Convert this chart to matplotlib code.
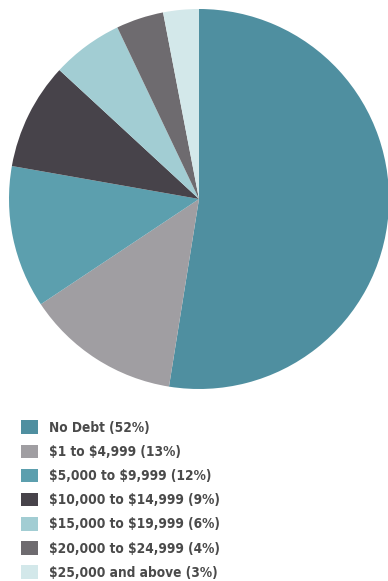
import matplotlib
matplotlib.use("Agg")
import matplotlib.pyplot as plt

categories = ["No Debt", "$1 to $4,999", "$5,000 to $9,999", "$10,000 to $14,999",
              "$15,000 to $19,999", "$20,000 to $24,999", "$25,000 and above"]
shares = [52, 13, 12, 9, 6, 4, 3]
colors = ["#4f8fa0", "#a09ea2", "#5c9fae", "#47434a", "#a2cdd3", "#6e6b6f", "#d3e8ea"]

plt.rcParams["text.parse_math"] = False
labels = [f"{c} ({s}%)" for c, s in zip(categories, shares)]

prop = dict(family=["DejaVu Sans"], stretch="condensed", weight="bold", size=9.8)

W, H = 388, 581
fig = plt.figure(figsize=(W / 100, H / 100), dpi=100)
fig.patch.set_facecolor("white")

# pie axes: square box in pixels, centred at (199, 199) from top-left
cx, cy, r = 199, 199, 190
ax = fig.add_axes([(cx - r) / W, (H - cy - r) / H, 2 * r / W, 2 * r / H])
wedges, _ = ax.pie(shares, colors=colors, startangle=90, counterclock=False,
                   radius=1.0, wedgeprops=dict(linewidth=0))
ax.set_xlim(-1, 1)
ax.set_ylim(-1, 1)
ax.axis("off")

leg = fig.legend(wedges, labels, loc="upper left",
                 bbox_to_anchor=(16 / W, 1 - 415 / H), frameon=False,
                 prop=prop,
                 handlelength=1.2, handleheight=1.15, handletextpad=0.85,
                 labelspacing=0.72, borderaxespad=0)
for t in leg.get_texts():
    t.set_color("#4a4a4a")

fig.savefig("out.png", dpi=100, facecolor="white")
